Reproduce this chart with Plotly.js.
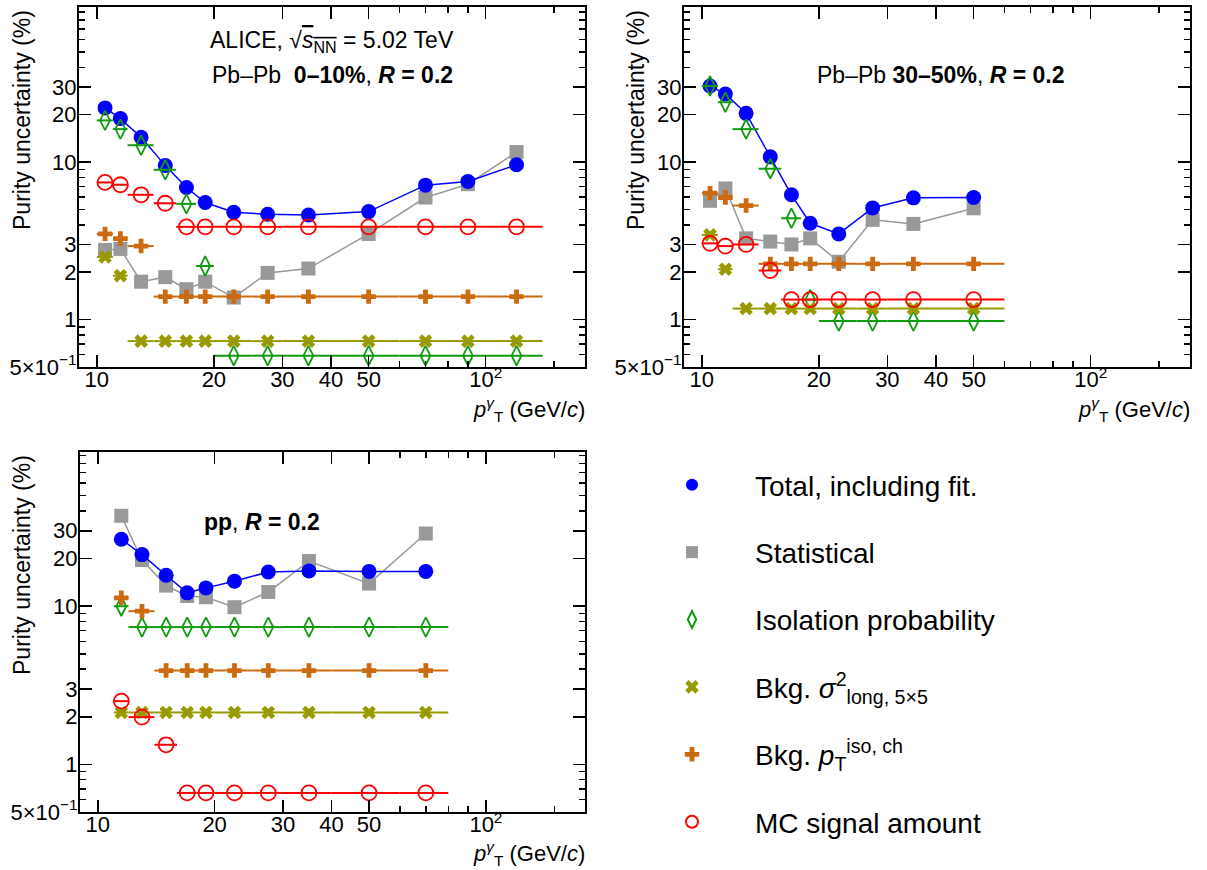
<!DOCTYPE html>
<html>
<head>
<meta charset="utf-8">
<script src="https://cdn.plot.ly/plotly-3.0.1.min.js"></script>
<style>html,body{margin:0;padding:0;background:#fff;}#chart{width:1207px;height:870px;}</style>
</head>
<body>
<div id="chart"></div>
<script>
// ---------- data: Pb-Pb 0-10% ----------
const pt0010   = [10.5, 11.5, 13, 15, 17, 19, 22.5, 27.5, 35, 50, 70, 90, 120];
const lo0010   = [10, 11, 12, 14, 16, 18, 20, 25, 30, 40, 60, 80, 100];
const hi0010   = [11, 12, 14, 16, 18, 20, 25, 30, 40, 60, 80, 100, 140];
const total0010 = [22.1, 18.9, 14.4, 9.5, 6.9, 5.54, 4.80, 4.67, 4.62, 4.85, 7.14, 7.53, 9.62];
const stat0010  = [2.77, 2.81, 1.74, 1.86, 1.56, 1.74, 1.38, 1.98, 2.11, 3.50, 5.96, 7.24, 11.6];
const iso0010   = [18.4, 16.2, 12.8, 8.94, 5.43, 2.19, 0.59, 0.59, 0.59, 0.59, 0.59, 0.59, 0.59];
const sig0010   = [2.5, 1.90, 0.73, 0.73, 0.73, 0.73, 0.73, 0.73, 0.73, 0.73, 0.73, 0.73, 0.73];
const ptiso0010 = [3.5, 3.27, 2.93, 1.40, 1.40, 1.40, 1.40, 1.40, 1.40, 1.40, 1.40, 1.40, 1.40];
const mc0010    = [7.43, 7.18, 6.2, 5.48, 3.88, 3.88, 3.88, 3.88, 3.88, 3.88, 3.88, 3.88, 3.88];

// ---------- data: Pb-Pb 30-50% ----------
const pt3050   = [10.5, 11.5, 13, 15, 17, 19, 22.5, 27.5, 35, 50];
const lo3050   = [10, 11, 12, 14, 16, 18, 20, 25, 30, 40];
const hi3050   = [11, 12, 14, 16, 18, 20, 25, 30, 40, 60];
const total3050 = [30.4, 27.1, 20.4, 10.8, 6.2, 4.09, 3.50, 5.12, 5.93, 5.96];
const stat3050  = [5.68, 6.80, 3.28, 3.13, 3.0, 3.28, 2.33, 4.30, 4.05, 5.09];
const iso3050   = [30.4, 24.0, 16.2, 9.08, 4.40, 1.34, 0.98, 0.98, 0.98, 0.98];
const sig3050   = [3.45, 2.09, 1.175, 1.175, 1.175, 1.175, 1.175, 1.175, 1.175, 1.175];
const ptiso3050 = [6.35, 5.96, 5.30, 2.26, 2.26, 2.26, 2.26, 2.26, 2.26, 2.26];
const mc3050    = [3.05, 2.93, 3.0, 2.05, 1.34, 1.34, 1.34, 1.34, 1.34, 1.34];

// ---------- data: pp ----------
const ptpp   = [11.5, 13, 15, 17, 19, 22.5, 27.5, 35, 50, 70];
const lopp   = [11, 12, 14, 16, 18, 20, 25, 30, 40, 60];
const hipp   = [12, 14, 16, 18, 20, 25, 30, 40, 60, 80];
const totalpp = [26.5, 21.2, 15.7, 12.15, 13.06, 14.4, 16.45, 16.7, 16.6, 16.6];
const statpp  = [37.3, 19.6, 13.5, 11.6, 11.4, 9.86, 12.3, 19.3, 13.9, 28.8];
const isopp   = [10.0, 7.38, 7.38, 7.38, 7.38, 7.38, 7.38, 7.38, 7.38, 7.38];
const sigpp   = [2.13, 2.13, 2.13, 2.13, 2.13, 2.13, 2.13, 2.13, 2.13, 2.13];
const ptisopp = [11.3, 9.3, 3.92, 3.92, 3.92, 3.92, 3.92, 3.92, 3.92, 3.92];
const mcpp    = [2.51, 1.99, 1.33, 0.66, 0.66, 0.66, 0.66, 0.66, 0.66, 0.66];

// ---------- labels ----------
const seriesNames = [
  'Total, including fit.',
  'Statistical',
  'Isolation probability',
  'Bkg. <i>σ</i><sup>2</sup><sub>long, 5×5</sub>',
  'Bkg. <i>p</i><sub>T</sub><sup>iso, ch</sup>',
  'MC signal amount'
];
const xTickVals = [10, 20, 30, 40, 50, 100];
const xTickText = ['10', '20', '30', '40', '50', '10<sup>2</sup>'];
const yTickVals = [0.5, 1, 2, 3, 10, 20, 30];
const yTickText = ['5×10<sup>−1</sup>', '1', '2', '3', '10', '20', '30'];
const xMinor = [60, 70, 80, 90, 150];
const yMinor = [0.6, 0.7, 0.8, 0.9, 4, 5, 6, 7, 8, 9, 40, 50, 60, 70, 80, 90];
const xDecades = [10, 100];
const yDecades = [1, 10];

const FONT = 'Liberation Sans, Arial, Helvetica, sans-serif';
const COL = {tot:'#0000ff', stat:'#999999', iso:'#109a10', sig:'#999900', ptiso:'#cc6a10', mc:'#ff0000'};

function errs(pt, lo, hi) {
  return {
    plus: pt.map((v, i) => hi[i] - v),
    minus: pt.map((v, i) => v - lo[i])
  };
}

function panelTraces(ax, pt, lo, hi, tot, stat, iso, sig, ptiso, mc, legend) {
  const xa = 'x' + ax, ya = 'y' + ax;
  const e = errs(pt, lo, hi);
  const ex = (c) => ({type:'data', symmetric:false, array:e.plus, arrayminus:e.minus, color:c, thickness:2, width:0});
  const tr = [];
  tr.push({x:pt, y:stat, xaxis:xa, yaxis:ya, mode:'lines', line:{color:COL.stat, width:1.5}, showlegend:false, hoverinfo:'skip'});
  tr.push({x:pt, y:stat, xaxis:xa, yaxis:ya, mode:'markers', name:seriesNames[1], legendgroup:'stat', legendrank:2,
           marker:{symbol:'square', size:14, color:COL.stat}, showlegend:legend});
  tr.push({x:pt, y:tot, xaxis:xa, yaxis:ya, mode:'lines', line:{color:COL.tot, width:1.5}, showlegend:false, hoverinfo:'skip'});
  tr.push({x:pt, y:tot, xaxis:xa, yaxis:ya, mode:'markers', name:seriesNames[0], legendgroup:'tot', legendrank:1,
           marker:{symbol:'circle', size:15, color:COL.tot}, showlegend:legend});
  tr.push({x:pt, y:iso, xaxis:xa, yaxis:ya, mode:'markers', name:seriesNames[2], legendgroup:'iso', legendrank:3,
           marker:{symbol:'diamond-tall-open', size:14, color:COL.iso, line:{width:1.8, color:COL.iso}},
           error_x:ex(COL.iso), showlegend:legend});
  tr.push({x:pt, y:sig, xaxis:xa, yaxis:ya, mode:'markers', name:seriesNames[3], legendgroup:'sig', legendrank:4,
           marker:{symbol:'x', size:12, color:COL.sig, line:{width:0}},
           error_x:ex(COL.sig), showlegend:legend});
  tr.push({x:pt, y:ptiso, xaxis:xa, yaxis:ya, mode:'markers', name:seriesNames[4], legendgroup:'ptiso', legendrank:5,
           marker:{symbol:'cross', size:12, color:COL.ptiso, line:{width:0}},
           error_x:ex(COL.ptiso), showlegend:legend});
  tr.push({x:pt, y:mc, xaxis:xa, yaxis:ya, mode:'markers', name:seriesNames[5], legendgroup:'mc', legendrank:6,
           marker:{symbol:'circle-open', size:15, color:COL.mc, line:{width:1.8, color:COL.mc}},
           error_x:ex(COL.mc), showlegend:legend});
  return tr;
}

const data = [].concat(
  panelTraces('', pt0010, lo0010, hi0010, total0010, stat0010, iso0010, sig0010, ptiso0010, mc0010, true),
  panelTraces('2', pt3050, lo3050, hi3050, total3050, stat3050, iso3050, sig3050, ptiso3050, mc3050, false),
  panelTraces('3', ptpp, lopp, hipp, totalpp, statpp, isopp, sigpp, ptisopp, mcpp, false)
);

const W = 1207, H = 870;
const xRange = [Math.log10(9), Math.log10(180)];
function xAx(l, r, anchor) {
  return {type:'log', range:xRange, domain:[l / W, r / W], anchor:anchor,
    tickmode:'array', tickvals:xTickVals, ticktext:xTickText,
    ticks:'inside', ticklen:12, tickwidth:1.5, tickcolor:'#000',
    minor:{tickmode:'array', tickvals:xMinor, ticks:'inside', ticklen:6, tickwidth:1.5, tickcolor:'#000', showgrid:false},
    showline:true, linewidth:2, linecolor:'#000', mirror:'ticks',
    showgrid:false, zeroline:false, ticklabelstandoff:-8,
    tickfont:{family:FONT, size:22, color:'#000'}};
}
function yAx(t, b, top, anchor) {
  return {type:'log', range:[Math.log10(0.5), top], domain:[1 - b / H, 1 - t / H], anchor:anchor,
    tickmode:'array', tickvals:yTickVals, ticktext:yTickText,
    ticks:'inside', ticklen:12, tickwidth:1.5, tickcolor:'#000',
    minor:{tickmode:'array', tickvals:yMinor, ticks:'inside', ticklen:6, tickwidth:1.5, tickcolor:'#000', showgrid:false},
    showline:true, linewidth:2, linecolor:'#000', mirror:'ticks',
    showgrid:false, zeroline:false, ticklabelstandoff:-4,
    tickfont:{family:FONT, size:22, color:'#000'}};
}
function xDec(over, anchor) {
  return {type:'log', range:xRange, overlaying:over, anchor:anchor, tickmode:'array', tickvals:xDecades,
    ticks:'inside', ticklen:20, tickwidth:1.5, tickcolor:'#000', showticklabels:false, showline:false,
    mirror:'ticks', showgrid:false, zeroline:false};
}
function yDec(over, anchor, top) {
  return {type:'log', range:[Math.log10(0.5), top], overlaying:over, anchor:anchor, tickmode:'array', tickvals:yDecades,
    ticks:'inside', ticklen:20, tickwidth:1.5, tickcolor:'#000', showticklabels:false, showline:false,
    mirror:'ticks', showgrid:false, zeroline:false};
}

const ytitle = (x, yTop) => ({text:'Purity uncertainty (%)', xref:'paper', yref:'paper', x:x / W, y:1 - yTop / H,
  xanchor:'center', yanchor:'top', textangle:-90, showarrow:false, font:{family:FONT, size:23, color:'#000'}});
const xtitle = (xr, yc) => ({text:'<i>p</i><sup><i>γ</i></sup><sub>T</sub> (GeV/<i>c</i>)', xref:'paper', yref:'paper',
  x:xr / W, y:1 - yc / H, xanchor:'right', yanchor:'middle', showarrow:false, font:{family:FONT, size:22, color:'#000'}});
const label = (t, x, y) => ({text:t, xref:'paper', yref:'paper', x:x / W, y:1 - y / H, xanchor:'center', yanchor:'middle',
  showarrow:false, font:{family:FONT, size:23, color:'#000'}});

const layout = {
  width:W, height:H, margin:{l:0, r:0, t:0, b:0},
  paper_bgcolor:'#fff', plot_bgcolor:'#fff',
  font:{family:FONT, color:'#000'},
  xaxis:xAx(79, 585, 'y'), yaxis:yAx(7, 367, 1.985, 'x'),
  xaxis2:xAx(684, 1190, 'y2'), yaxis2:yAx(7, 367, 1.985, 'x2'),
  xaxis3:xAx(80, 585, 'y3'), yaxis3:yAx(452, 812, 1.975, 'x3'),
  xaxis4:xDec('x', 'y'), yaxis4:yDec('y', 'x', 1.985),
  xaxis5:xDec('x2', 'y2'), yaxis5:yDec('y2', 'x2', 1.985),
  xaxis6:xDec('x3', 'y3'), yaxis6:yDec('y3', 'x3', 1.975),
  showlegend:true,
  legend:{x:629 / W, y:1 - 460 / H, xanchor:'left', yanchor:'top', bgcolor:'rgba(0,0,0,0)',
    font:{family:FONT, size:28, color:'#000'}, traceorder:'grouped', tracegroupgap:28, itemwidth:116,
    itemsizing:'constant', itemclick:false},
  annotations:[
    ytitle(22, 8), ytitle(636, 8), ytitle(22, 453),
    xtitle(587, 409), xtitle(1192, 409), xtitle(587, 853),
    label('ALICE, √<span style="text-decoration:overline"><i>s</i><sub>NN</sub></span> = 5.02 TeV', 332, 42),
    label('Pb–Pb  <b>0–10%</b>, <b><i>R</i> = 0.2</b>', 332, 75),
    label('Pb–Pb <b>30–50%</b>, <b><i>R</i> = 0.2</b>', 940, 75),
    label('<b>pp</b>, <b><i>R</i> = 0.2</b>', 262, 522)
  ]
};

Plotly.newPlot('chart', data, layout, {displayModeBar:false, staticPlot:true});
</script>
</body>
</html>
